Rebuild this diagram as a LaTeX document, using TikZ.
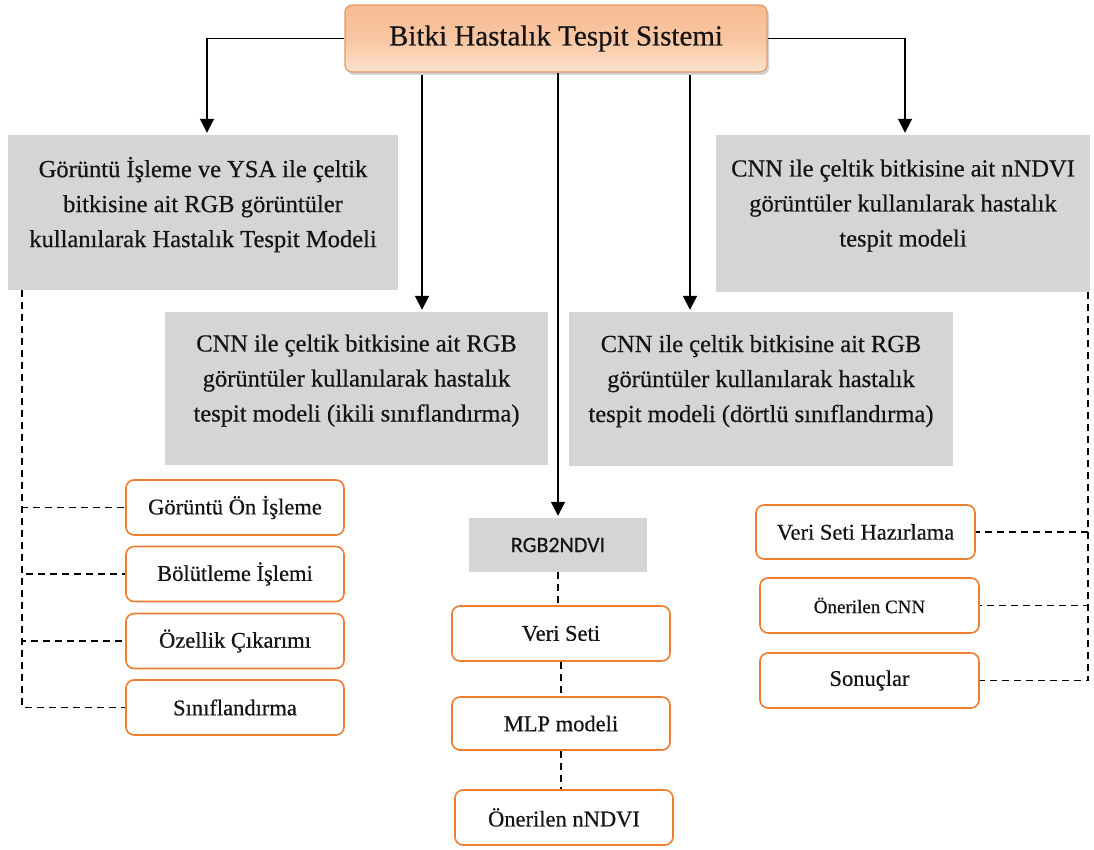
\documentclass[tikz,border=0pt]{standalone}
\usepackage{fontspec}
\setmainfont{Liberation Serif}[FakeBold=0.5]
\newfontfamily\calfont{Carlito}[FakeBold=0.4]
\usetikzlibrary{arrows.meta,shadows}

\definecolor{boxgray}{HTML}{D5D5D5}
\definecolor{stepedge}{HTML}{ED7D31}
\definecolor{titleedge}{HTML}{E09A6C}
\definecolor{titletop}{HTML}{F6BB92}
\definecolor{titlemid}{HTML}{F9C6A2}
\definecolor{titlebot}{HTML}{FDE2CC}
\definecolor{ink}{HTML}{141414}

\begin{document}
\begin{tikzpicture}[x=1pt,y=-1pt,
  every node/.style={text=ink},
  titlebox/.style={draw=titleedge, line width=1.2pt, rounded corners=7pt,
    top color=titletop, bottom color=titlebot, middle color=titlemid,
    drop shadow={shadow xshift=2pt, shadow yshift=-3pt, fill=black!35, opacity=0.5},
    minimum width=422pt, minimum height=67pt,
    font=\fontsize{29}{33}\selectfont},
  graybox/.style={fill=boxgray, draw=none, align=center,
    font=\fontsize{24.5}{35}\selectfont},
  stepbox/.style={draw=stepedge, line width=1.6pt, rounded corners=8pt,
    fill=white, minimum width=218pt, minimum height=55pt,
    font=\fontsize{22.5}{26}\selectfont},
  arrowline/.style={line width=1.8pt, shorten >=2pt,
    -{Triangle[width=14pt,length=14pt]}},
  dashline/.style={line width=1.6pt, dash pattern=on 7pt off 5pt}
]
\useasboundingbox (0,0) rectangle (1094,850);

% main title
\node[titlebox] (title) at (556,38.5) {Bitki Hastalık Tespit Sistemi};

% four study boxes
\node[graybox, minimum width=390pt, minimum height=155pt] (ysa) at (203,212.5)
  {Görüntü İşleme ve YSA ile çeltik\\bitkisine ait RGB görüntüler\\kullanılarak Hastalık Tespit Modeli\\[-14pt]};
\node[graybox, minimum width=374pt, minimum height=157pt] (nndvi) at (903,213.5)
  {CNN ile çeltik bitkisine ait nNDVI\\görüntüler kullanılarak hastalık\\tespit modeli\\[-14pt]};
\node[graybox, minimum width=383pt, minimum height=153pt] (ikili) at (356.5,388.5)
  {CNN ile çeltik bitkisine ait RGB\\görüntüler kullanılarak hastalık\\tespit modeli (ikili sınıflandırma)\\[-14pt]};
\node[graybox, minimum width=384pt, minimum height=154pt] (dortlu) at (761,389)
  {CNN ile çeltik bitkisine ait RGB\\görüntüler kullanılarak hastalık\\tespit modeli (dörtlü sınıflandırma)\\[-14pt]};

% middle chain
\node[graybox, minimum width=178pt, minimum height=54pt,
  font=\calfont\fontsize{22}{26}\selectfont] (rgb) at (558,545) {RGB2NDVI};
\node[stepbox] (veri) at (561,633.5) {Veri Seti};
\node[stepbox, minimum height=53pt] (mlp) at (561,723.5) {MLP modeli};
\node[stepbox] (onerN) at (564,817.5) {Önerilen nNDVI};

% left steps
\node[stepbox] (onis) at (235,507.5) {Görüntü Ön İşleme};
\node[stepbox] (bolut) at (235,574) {Bölütleme İşlemi};
\node[stepbox] (ozel) at (235,641) {Özellik Çıkarımı};
\node[stepbox] (sinif) at (235,707.5) {Sınıflandırma};

% right steps
\node[stepbox, minimum width=219pt, minimum height=54pt] (vsh) at (865.5,532) {Veri Seti Hazırlama};
\node[stepbox, minimum width=219pt, font=\fontsize{19}{22}\selectfont] (ocnn) at (869.5,605.5) {Önerilen CNN};
\node[stepbox, minimum width=219pt] (sonuc) at (869.5,680.5) {Sonuçlar};

% branch points under the title
\coordinate (t1) at (422,75);
\coordinate (t3) at (690,75);

% solid arrows from the title
\draw[arrowline] (title.west) -| ([xshift=4pt]ysa.north);
\draw[arrowline] (title.east) -| ([xshift=2pt]nndvi.north);
\draw[arrowline] (t1) -- (t1 |- ikili.north);
\draw[arrowline] (title.south -| rgb.north) -- (rgb.north);
\draw[arrowline] (t3) -- (t3 |- dortlu.north);

% dashed trees
\coordinate (lroot) at (22,290);
\coordinate (rroot) at (1088,292);
\foreach \n in {onis,bolut,ozel,sinif}
  \draw[dashline] (lroot) |- (\n.west);
\foreach \n in {vsh,ocnn,sonuc}
  \draw[dashline] (rroot) |- (\n.east);

\draw[dashline] (rgb.south) -- (rgb.south |- veri.north);
\draw[dashline] (veri.south) -- (veri.south |- mlp.north);
\draw[dashline] (mlp.south) -- (mlp.south |- onerN.north);
\end{tikzpicture}
\end{document}
